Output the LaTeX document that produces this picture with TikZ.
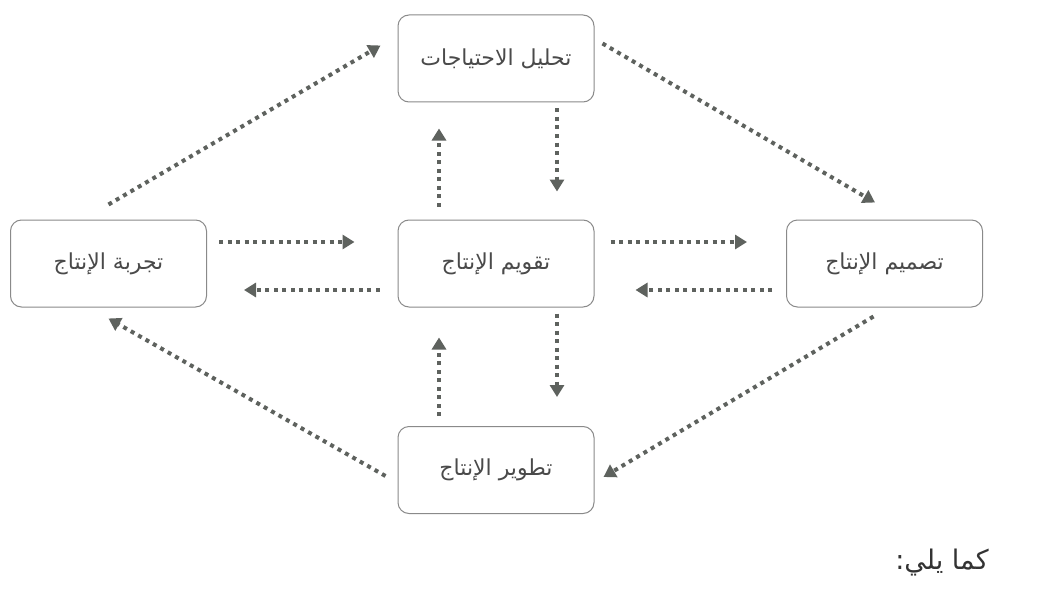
\documentclass[tikz,border=0pt]{standalone}
\usepackage{fontspec}
\usetikzlibrary{arrows.meta}
\TeXXeTstate=1
\newfontfamily\arabicfont[Script=Arabic]{DejaVu Sans}
\definecolor{linegray}{HTML}{5E625E}
\definecolor{boxgray}{HTML}{8A8A8A}
\definecolor{txtgray}{HTML}{4A4A4A}
\tikzset{
  stagebox/.style={draw=boxgray, line width=1pt, rounded corners=11pt,
    minimum width=196pt, minimum height=87pt, inner sep=0pt,
    font=\arabicfont\fontsize{22}{26}\selectfont, text=txtgray},
  dotarrow/.style={draw=linegray, line width=4pt, dash pattern=on 4pt off 4.5pt,
    -{Triangle[length=12pt,width=14pt]}}
}
\begin{document}
\begin{tikzpicture}[x=1pt,y=-1pt]
\useasboundingbox (0,0) rectangle (1054,591);
\fill[white] (0,0) rectangle (1054,591);

\node[stagebox] (top) at (496,58.5) {\beginR تحليل الاحتياجات\endR};
\node[stagebox] (left) at (108.5,263.5) {\beginR تجربة الإنتاج\endR};
\node[stagebox] (center) at (496,263.5) {\beginR تقويم الإنتاج\endR};
\node[stagebox] (right) at (884.5,263.5) {\beginR تصميم الإنتاج\endR};
\node[stagebox] (bottom) at (496,470) {\beginR تطوير الإنتاج\endR};

% vertical arrows
\draw[dotarrow] ([shift={(61,6)}]top.south) -- ([shift={(61,-28)}]center.north);
\draw[dotarrow] ([shift={(-57,-13)}]center.north) -- ([shift={(-57,26)}]top.south);
\draw[dotarrow] ([shift={(61,6)}]center.south) -- ([shift={(61,-29)}]bottom.north);
\draw[dotarrow] ([shift={(-57,-10)}]bottom.north) -- ([shift={(-57,30)}]center.south);

% horizontal arrows
\draw[dotarrow] ([shift={(12,-21.5)}]left.east) -- ([shift={(-43,-21.5)}]center.west);
\draw[dotarrow] ([shift={(-18,26.5)}]center.west) -- ([shift={(37,26.5)}]left.east);
\draw[dotarrow] ([shift={(16,-21.5)}]center.east) -- ([shift={(-39,-21.5)}]right.west);
\draw[dotarrow] ([shift={(-14,26.5)}]right.west) -- ([shift={(41,26.5)}]center.east);

% diagonal arrows
\draw[dotarrow] ([shift={(0,-15)}]left.north) -- ([shift={(-17,-13)}]top.west);
\draw[dotarrow] ([shift={(8,-15)}]top.east) -- ([shift={(-9.5,-17)}]right.north);
\draw[dotarrow] ([shift={(-11,9)}]right.south) -- ([shift={(9,7)}]bottom.east);
\draw[dotarrow] ([shift={(-12,6)}]bottom.west) -- ([shift={(0,11)}]left.south);

\node[font=\arabicfont\fontsize{27}{32}\selectfont, text=black!80, inner sep=0pt] (follow) at (942,563) {\beginR كما يلي:\endR};
\end{tikzpicture}
\end{document}
